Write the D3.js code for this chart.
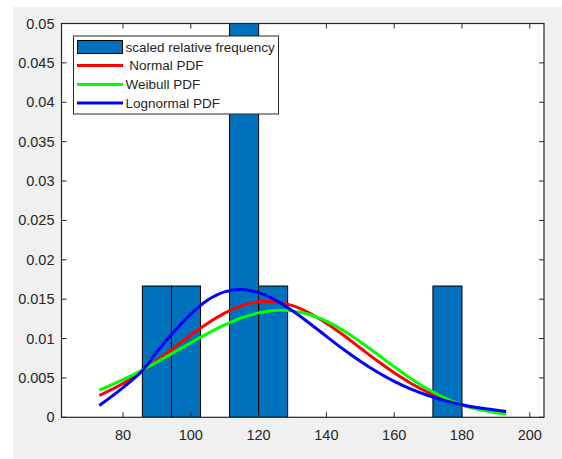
<!DOCTYPE html>
<html>
<head>
<meta charset="utf-8">
<script src="https://cdn.jsdelivr.net/npm/d3@7"></script>
<style>
  body { margin: 0; background: #fff; }
  text { font-family: "Liberation Sans", Arial, sans-serif; fill: #262626; }
</style>
</head>
<body>
<div id="chart"></div>
<script>
// Histogram bins (scaled relative frequency)
const binStart = [85.71, 94.29, 111.43, 120.0, 171.43];
const binEnd   = [94.29, 102.86, 120.0, 128.57, 180.0];
const binFreq  = [0.01667, 0.01667, 0.05, 0.01667, 0.01667];

// Fitted PDF curves
const xs = [73, 80, 86, 90, 95, 100, 105, 110, 115, 120, 125, 130, 135, 140, 145, 150, 155, 160, 165, 170, 175, 180, 185, 193];
const normalPdf = [0.00277, 0.0043, 0.00594, 0.00717, 0.0088, 0.01044, 0.01195, 0.01323, 0.01417, 0.01466, 0.01466, 0.01417,
  0.01323, 0.01195, 0.01044, 0.0088, 0.00717, 0.00565, 0.0043, 0.00317, 0.00225, 0.00155, 0.00103, 0.0005];
const weibullPdf = [0.00345, 0.00479, 0.00605, 0.00702, 0.00824, 0.00947, 0.01066, 0.01174, 0.01263, 0.01326, 0.01357, 0.0135,
  0.01305, 0.0122, 0.01103, 0.0096, 0.00803, 0.00642, 0.0049, 0.00356, 0.00245, 0.00159, 0.00097, 0.00038];
const lognormalPdf = [0.0015, 0.00377, 0.00605, 0.0083, 0.01085, 0.0131, 0.01489, 0.01593, 0.01622, 0.01583, 0.01488, 0.01352,
  0.01194, 0.01028, 0.00863, 0.00711, 0.00575, 0.00457, 0.00358, 0.00277, 0.00212, 0.0016, 0.0012, 0.00074];

const xTicks = [80, 100, 120, 140, 160, 180, 200];
const yTicks = [0, 0.005, 0.01, 0.015, 0.02, 0.025, 0.03, 0.035, 0.04, 0.045, 0.05];

const legendLabels = ["scaled relative frequency", " Normal PDF", "Weibull PDF", "Lognormal PDF"];

const width = 562, height = 459;
const mLeft = 61.5, mRight = 544, mTop = 23.5, mBottom = 417.3;

const svg = d3.select("#chart").append("svg")
  .attr("width", width)
  .attr("height", height);

// figure background
svg.append("rect")
  .attr("x", 13).attr("y", 7)
  .attr("width", width - 13).attr("height", height - 7)
  .attr("fill", "#f0f0f0");

svg.append("rect")
  .attr("x", mLeft).attr("y", mTop)
  .attr("width", mRight - mLeft).attr("height", mBottom - mTop)
  .attr("fill", "#fff");

const x = d3.scaleLinear().domain([61.85, 204.2]).range([mLeft, mRight]);
const y = d3.scaleLinear().domain([0, 0.05]).range([mBottom, mTop]);

svg.append("clipPath").attr("id", "plot")
  .append("rect")
  .attr("x", mLeft).attr("y", mTop)
  .attr("width", mRight - mLeft).attr("height", mBottom - mTop);

const plot = svg.append("g").attr("clip-path", "url(#plot)");

// bars
plot.selectAll("rect.bar")
  .data(binStart)
  .join("rect")
  .attr("class", "bar")
  .attr("x", d => x(d))
  .attr("y", (d, i) => y(binFreq[i]))
  .attr("width", (d, i) => x(binEnd[i]) - x(d))
  .attr("height", (d, i) => y(0) - y(binFreq[i]))
  .attr("fill", "#0072bd")
  .attr("stroke", "#000")
  .attr("stroke-width", 1);

// curves
const series = [
  { vals: normalPdf, color: "#ff0000" },
  { vals: weibullPdf, color: "#00ff00" },
  { vals: lognormalPdf, color: "#0000ff" }
];

const line = d3.line()
  .x(d => x(d[0]))
  .y(d => y(d[1]))
  .curve(d3.curveCatmullRom);

series.forEach(s => {
  plot.append("path")
    .datum(xs.map((v, i) => [v, s.vals[i]]))
    .attr("d", line)
    .attr("fill", "none")
    .attr("stroke", s.color)
    .attr("stroke-width", 3)
    .attr("stroke-linejoin", "round");
});

// axes (MATLAB style box, ticks inside)
const axisColor = "#262626";
const tickLen = 5;

const xAxis = svg.append("g");
xTicks.forEach(t => {
  xAxis.append("line")
    .attr("x1", x(t)).attr("x2", x(t))
    .attr("y1", mBottom).attr("y2", mBottom - tickLen)
    .attr("stroke", axisColor);
  xAxis.append("line")
    .attr("x1", x(t)).attr("x2", x(t))
    .attr("y1", mTop).attr("y2", mTop + tickLen)
    .attr("stroke", axisColor);
  xAxis.append("text")
    .attr("x", x(t)).attr("y", mBottom + 23)
    .attr("text-anchor", "middle")
    .attr("font-size", 14.5)
    .text(t);
});

const yAxis = svg.append("g");
yTicks.forEach(t => {
  yAxis.append("line")
    .attr("x1", mLeft).attr("x2", mLeft + tickLen)
    .attr("y1", y(t)).attr("y2", y(t))
    .attr("stroke", axisColor);
  yAxis.append("line")
    .attr("x1", mRight).attr("x2", mRight - tickLen)
    .attr("y1", y(t)).attr("y2", y(t))
    .attr("stroke", axisColor);
  yAxis.append("text")
    .attr("x", mLeft - 7).attr("y", y(t) + 5)
    .attr("text-anchor", "end")
    .attr("font-size", 14.5)
    .text(String(t));
});

svg.append("rect")
  .attr("x", mLeft).attr("y", mTop)
  .attr("width", mRight - mLeft).attr("height", mBottom - mTop)
  .attr("fill", "none")
  .attr("stroke", axisColor)
  .attr("stroke-width", 1.2);

// legend
const lg = svg.append("g");
lg.append("rect")
  .attr("x", 73.5).attr("y", 36)
  .attr("width", 205).attr("height", 78)
  .attr("fill", "#fff")
  .attr("stroke", axisColor)
  .attr("stroke-width", 1);

const rowY = [47, 65.5, 84.5, 103];
lg.append("rect")
  .attr("x", 77.5).attr("y", 40.5)
  .attr("width", 45).attr("height", 13)
  .attr("fill", "#0072bd")
  .attr("stroke", "#000");

series.forEach((s, i) => {
  lg.append("line")
    .attr("x1", 77).attr("x2", 123)
    .attr("y1", rowY[i + 1]).attr("y2", rowY[i + 1])
    .attr("stroke", s.color)
    .attr("stroke-width", 3);
});

legendLabels.forEach((l, i) => {
  lg.append("text")
    .attr("x", 125.5).attr("y", rowY[i] + 4.5)
    .attr("font-size", 13.5)
    .style("white-space", "pre")
    .text(l);
});
</script>
</body>
</html>
